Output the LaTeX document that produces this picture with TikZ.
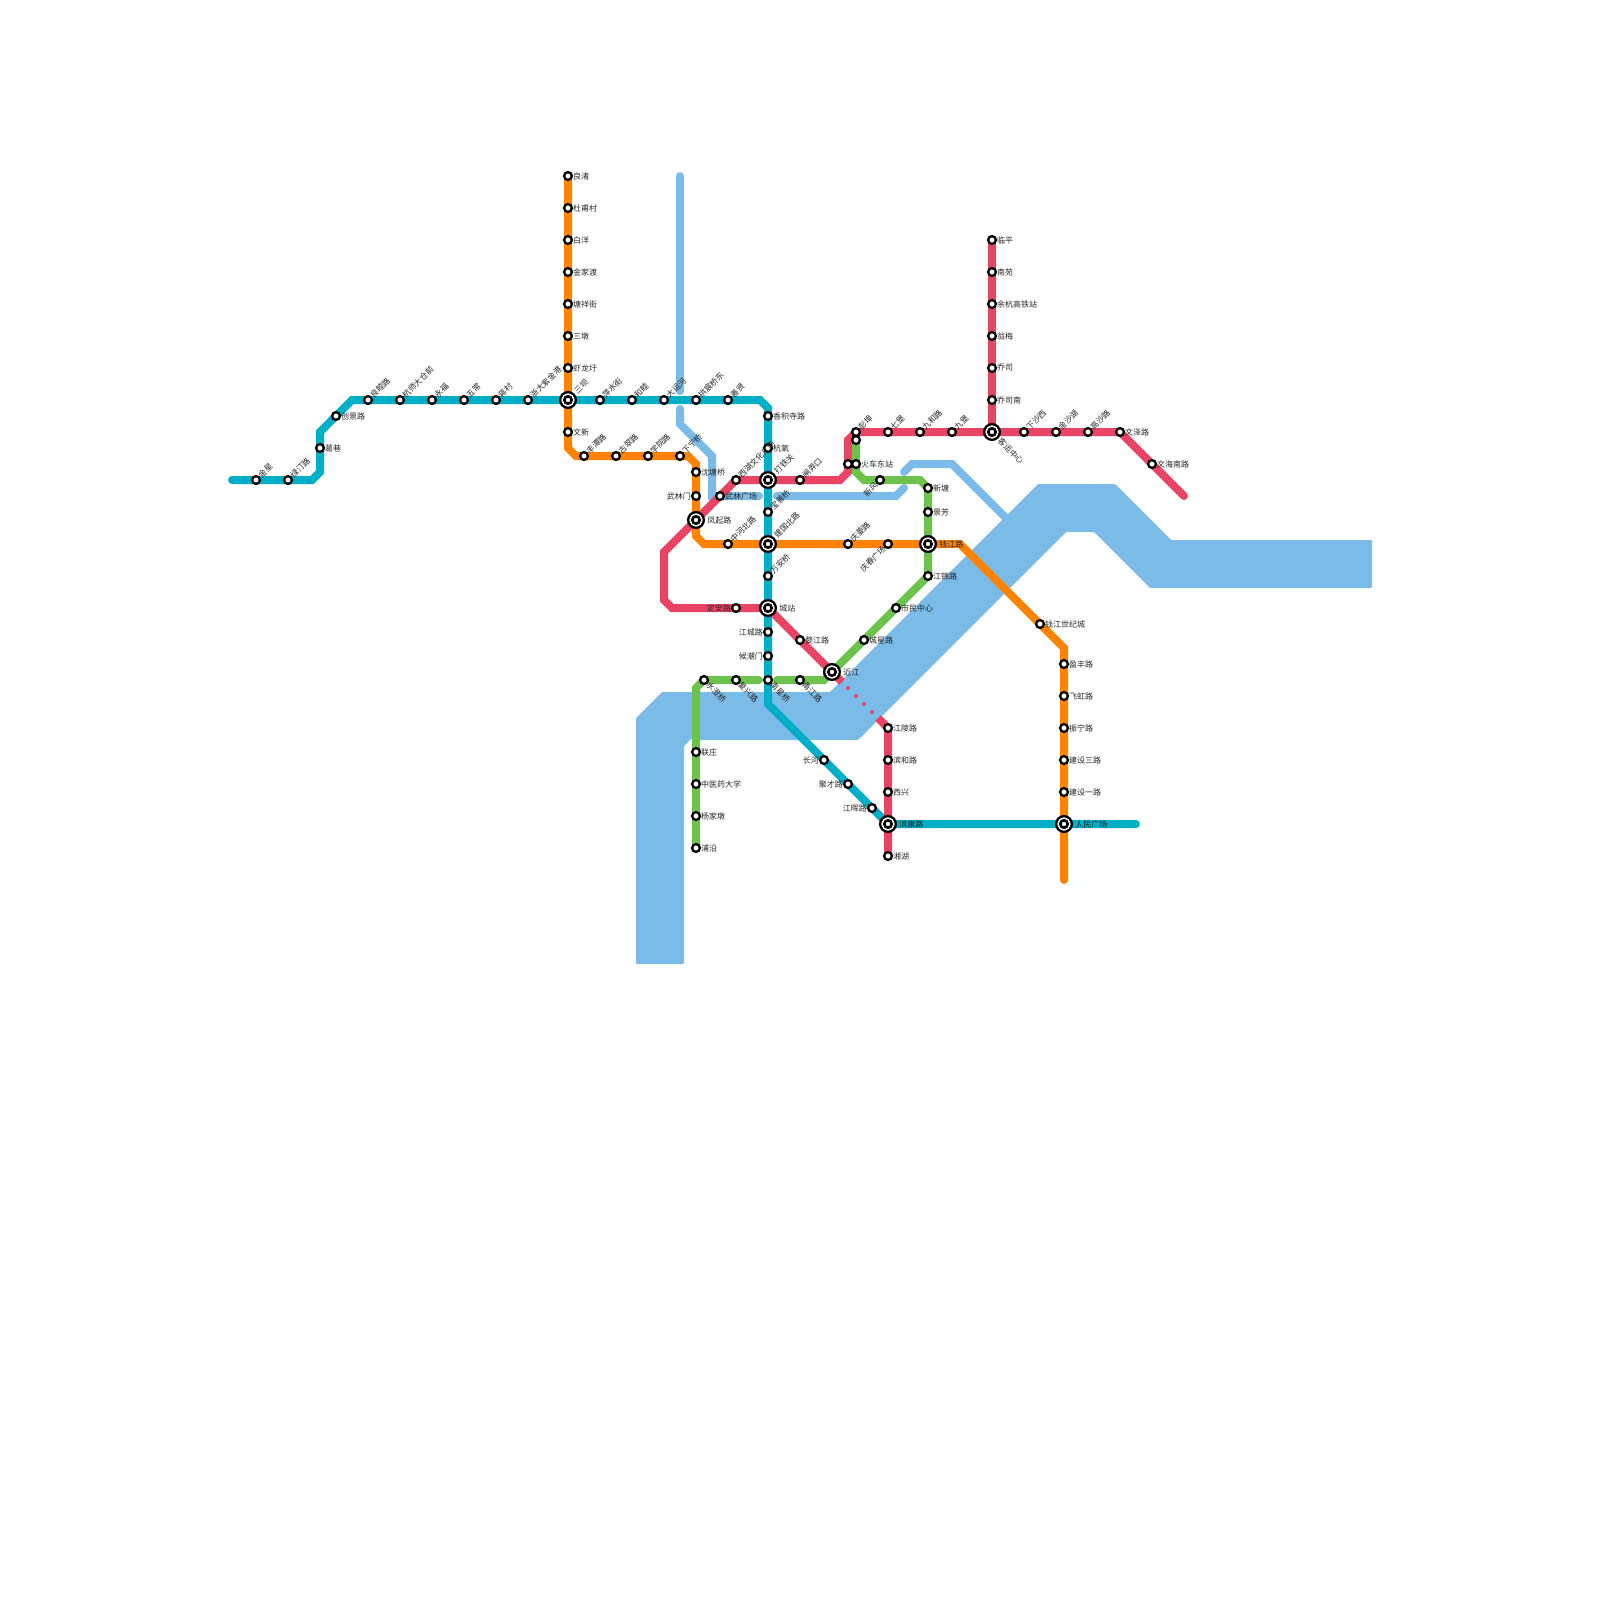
\documentclass[tikz,border=0pt]{standalone}
\usepackage{fontspec}
\setmainfont{Noto Sans CJK SC}
\usepackage{xcolor}
\usetikzlibrary{backgrounds}
\definecolor{cyanline}{HTML}{00AEC7}
\definecolor{orangeline}{HTML}{FF8200}
\definecolor{redline}{HTML}{EA4464}
\definecolor{greenline}{HTML}{6CC24A}
\definecolor{riverblue}{HTML}{7ABBE8}
\tikzset{
  stn/.style={circle, draw=black, fill=white, line width=2.3pt, inner sep=0pt, outer sep=0pt, minimum size=7.8pt},
  hub/.style={circle, draw=black, fill=white, line width=2.3pt, inner sep=0pt, outer sep=0pt, minimum size=15.7pt,
    path picture={\draw[line width=2.6pt] (path picture bounding box.center) circle (3.7pt);}},
  lbl/.style={font=\fontsize{8}{9}\selectfont, text=black!85, inner sep=1pt},
  lne/.style={lbl, rotate=45, anchor=west, inner sep=1.2pt},
  lse/.style={lbl, rotate=-45, anchor=west, inner sep=1.2pt},
  lsw/.style={lbl, rotate=45, anchor=east, inner sep=1.2pt},
  hlb/.style={lbl, inner sep=3.3pt},
  hne/.style={lne, inner sep=2.6pt},
  hse/.style={lse, inner sep=2.6pt},
  metro/.style={line width=8pt, line cap=round},
}
\begin{document}
\begin{tikzpicture}[x=1pt, y=-1pt]
    \useasboundingbox (0,0) rectangle (1600,1600);

    % West-east line stations
    \node[stn, label={[lne]45:金星}]       (jx)  at (256,480) {};
    \node[stn, label={[lne]45:绿汀路}]     (lt)  at (288,480) {};
    \node[stn, label={[lbl]right:葛巷}]    (gx)  at (320,448) {};
    \node[stn, label={[lbl]right:创景路}]  (cj)  at (336,416) {};
    \node[stn, label={[lne]45:良睦路}]     (lm)  at (368,400) {};
    \node[stn, label={[lne]45:杭师大仓前}] (hs)  at (400,400) {};
    \node[stn, label={[lne]45:永福}]       (yf)  at (432,400) {};
    \node[stn, label={[lne]45:五常}]       (wc)  at (464,400) {};
    \node[stn, label={[lne]45:蒋村}]       (jc)  at (496,400) {};
    \node[stn, label={[lne]45:浙大紫金港}] (zd)  at (528,400) {};
    \node[hub, label={[hne]45:三坝}]       (sb)  at (568,400) {};
    \node[stn, label={[lne]45:萍水街}]     (ps)  at (600,400) {};
    \node[stn, label={[lne]45:和睦}]       (hm)  at (632,400) {};
    \node[stn, label={[lne]45:大运河}]     (dy)  at (664,400) {};
    \node[stn, label={[lne]45:拱宸桥东}]   (gc)  at (696,400) {};
    \node[stn, label={[lne]45:善贤}]       (sx)  at (728,400) {};
    \node[stn, label={[lbl]right:香积寺路}] (xjs) at (768,416) {};
    \node[stn, label={[lbl]right:杭氧}]    (hy)  at (768,448) {};
    \node[hub, label={[hne]45:打铁关}]     (dt)  at (768,480) {};
    \node[stn, label={[lne]45:宝善桥}]     (bs)  at (768,512) {};
    \node[hub, label={[hne]45:建国北路}]   (jg)  at (768,544) {};
    \node[stn, label={[lne]45:万安桥}]     (wa)  at (768,576) {};
    \node[hub, label={[hlb]right:城站}]    (cz)  at (768,608) {};
    \node[stn, label={[lbl]left:江城路}]   (jcl) at (768,632) {};
    \node[stn, label={[lbl]left:候潮门}]   (hcm) at (768,656) {};
    \node[stn, label={[lse]-45:南星桥}]    (nx)  at (768,680) {};
    \node[stn, label={[lbl]left:长河}]     (chh) at (824,760) {};
    \node[stn, label={[lbl]left:聚才路}]   (jcai) at (848,784) {};
    \node[stn, label={[lbl]left:江晖路}]   (jh)  at (872,808) {};
    \node[hub, label={[hlb]right:滨康路}]  (bk)  at (888,824) {};
    \node[hub, label={[hlb]right:人民广场}] (rm) at (1064,824) {};

    % North-south orange line stations
    \node[stn, label={[lbl]right:良渚}]    (lzh) at (568,176) {};
    \node[stn, label={[lbl]right:杜甫村}]  (df)  at (568,208) {};
    \node[stn, label={[lbl]right:白洋}]    (by)  at (568,240) {};
    \node[stn, label={[lbl]right:金家渡}]  (jjd) at (568,272) {};
    \node[stn, label={[lbl]right:塘祥街}]  (tx)  at (568,304) {};
    \node[stn, label={[lbl]right:三墩}]    (sd)  at (568,336) {};
    \node[stn, label={[lbl]right:虾龙圩}]  (xl)  at (568,368) {};
    \node[stn, label={[lbl]right:文新}]    (wx)  at (568,432) {};
    \node[stn, label={[lne]45:丰潭路}]     (ft)  at (584,456) {};
    \node[stn, label={[lne]45:古翠路}]     (gcu) at (616,456) {};
    \node[stn, label={[lne]45:学院路}]     (xy)  at (648,456) {};
    \node[stn, label={[lne]45:下宁桥}]     (xn)  at (680,456) {};
    \node[stn, label={[lbl]right:沈塘桥}]  (st)  at (696,472) {};
    \node[stn, label={[lbl]left:武林门}]   (wlm) at (696,496) {};
    \node[hub, label={[hlb]right:凤起路}]  (fq)  at (696,520) {};
    \node[stn, label={[lne]45:中河北路}]   (zh)  at (728,544) {};
    \node[stn, label={[lne]45:庆菱路}]     (ql)  at (848,544) {};
    \node[stn, label={[lsw]-135:庆春广场}] (qc)  at (888,544) {};
    \node[hub, label={[hlb]right:钱江路}]  (qj)  at (928,544) {};
    \node[stn, label={[lbl]right:钱江世纪城}] (qs) at (1040,624) {};
    \node[stn, label={[lbl]right:盈丰路}]  (yfe) at (1064,664) {};
    \node[stn, label={[lbl]right:飞虹路}]  (fh)  at (1064,696) {};
    \node[stn, label={[lbl]right:振宁路}]  (zn)  at (1064,728) {};
    \node[stn, label={[lbl]right:建设三路}] (js3) at (1064,760) {};
    \node[stn, label={[lbl]right:建设一路}] (js1) at (1064,792) {};

    % Red line stations
    \node[stn, label={[lbl]right:湘湖}]    (xh)  at (888,856) {};
    \node[stn, label={[lbl]right:西兴}]    (xx)  at (888,792) {};
    \node[stn, label={[lbl]right:滨和路}]  (bh)  at (888,760) {};
    \node[stn, label={[lbl]right:江陵路}]  (jl)  at (888,728) {};
    \node[hub, label={[hlb]right:近江}]    (jj)  at (832,672) {};
    \node[stn, label={[lbl]right:婺江路}]  (wj)  at (800,640) {};
    \node[stn, label={[lbl]left:定安路}]   (da)  at (736,608) {};
    \node[stn, label={[lbl]right:武林广场}] (wg) at (720,496) {};
    \node[stn, label={[lne]45:西湖文化广场}] (xw) at (736,480) {};
    \node[stn, label={[lne]45:闸弄口}]     (zn2) at (800,480) {};
    \node[stn]                             (hd1) at (848,464) {};
    \node[stn, label={[lne]45:彭埠}]       (pb)  at (856,432) {};
    \node[stn, label={[lne]45:七堡}]       (qb)  at (888,432) {};
    \node[stn, label={[lne]45:九和路}]     (jhl) at (920,432) {};
    \node[stn, label={[lne]45:九堡}]       (jb)  at (952,432) {};
    \node[hub, label={[hse]-45:客运中心}]  (ky)  at (992,432) {};
    \node[stn, label={[lne]45:下沙西}]     (xs)  at (1024,432) {};
    \node[stn, label={[lne]45:金沙湖}]     (js)  at (1056,432) {};
    \node[stn, label={[lne]45:高沙路}]     (gs)  at (1088,432) {};
    \node[stn, label={[lbl]right:文泽路}]  (wz)  at (1120,432) {};
    \node[stn, label={[lbl]right:文海南路}] (wh) at (1152,464) {};
    \node[stn, label={[lbl]right:临平}]    (lp)  at (992,240) {};
    \node[stn, label={[lbl]right:南苑}]    (ny)  at (992,272) {};
    \node[stn, label={[lbl]right:余杭高铁站}] (yh) at (992,304) {};
    \node[stn, label={[lbl]right:翁梅}]    (wm)  at (992,336) {};
    \node[stn, label={[lbl]right:乔司}]    (qs1) at (992,368) {};
    \node[stn, label={[lbl]right:乔司南}]  (qn)  at (992,400) {};

    % Green line stations
    \node[stn]                             (pb2) at (856,440) {};
    \node[stn, label={[lbl]right:火车东站}] (hd) at (856,464) {};
    \node[stn, label={[lsw]-135:新风}]     (xf)  at (880,480) {};
    \node[stn, label={[lbl]right:新塘}]    (xt)  at (928,488) {};
    \node[stn, label={[lbl]right:景芳}]    (jf)  at (928,512) {};
    \node[stn, label={[lbl]right:江锦路}]  (jjl) at (928,576) {};
    \node[stn, label={[lbl]right:市民中心}] (sm) at (896,608) {};
    \node[stn, label={[lbl]right:城星路}]  (cx)  at (864,640) {};
    \node[stn, label={[lse]-45:甬江路}]    (yj)  at (800,680) {};
    \node[stn, label={[lse]-45:复兴路}]    (fx)  at (736,680) {};
    \node[stn, label={[lse]-45:水澄桥}]    (sc)  at (704,680) {};
    \node[stn, label={[lbl]right:联庄}]    (lz)  at (696,752) {};
    \node[stn, label={[lbl]right:中医药大学}] (zy) at (696,784) {};
    \node[stn, label={[lbl]right:杨家墩}]  (yjd) at (696,816) {};
    \node[stn, label={[lbl]right:浦沿}]    (pyn) at (696,848) {};

    % Bends and free ends
    \coordinate (c0) at (232,480);
    \coordinate (c1) at (312,480);
    \coordinate (c2) at (320,472);
    \coordinate (c3) at (320,432);
    \coordinate (c4) at (352,400);
    \coordinate (c5) at (760,400);
    \coordinate (c6) at (768,408);
    \coordinate (c7) at (768,704);
    \coordinate (c8) at (1136,824);
    \coordinate (o1) at (568,448);
    \coordinate (o2) at (576,456);
    \coordinate (o3) at (688,456);
    \coordinate (o4) at (696,464);
    \coordinate (o5) at (696,536);
    \coordinate (o6) at (704,544);
    \coordinate (o7) at (960,544);
    \coordinate (o8) at (1064,648);
    \coordinate (o9) at (1064,880);
    \coordinate (r1) at (1184,496);
    \coordinate (r2) at (848,440);
    \coordinate (r3) at (848,472);
    \coordinate (r4) at (840,480);
    \coordinate (r5) at (664,552);
    \coordinate (r6) at (664,600);
    \coordinate (r7) at (672,608);
    \coordinate (r8) at (842,682);
    \coordinate (r9) at (878,718);
    \coordinate (g1) at (856,472);
    \coordinate (g2) at (864,480);
    \coordinate (g3) at (920,480);
    \coordinate (g4) at (824,680);
    \coordinate (g5) at (777,680);
    \coordinate (g6) at (759,680);
    \coordinate (g7) at (696,688);
    \coordinate (k1) at (680,176);
    \coordinate (k2) at (680,391);
    \coordinate (k3) at (680,409);
    \coordinate (k4) at (680,424);
    \coordinate (k5) at (712,456);
    \coordinate (k6) at (712,496);
    \coordinate (k7) at (759,496);
    \coordinate (k8) at (777,496);
    \coordinate (k9) at (896,496);
    \coordinate (k10) at (904,488);
    \coordinate (k11) at (904,472);
    \coordinate (k12) at (912,464);
    \coordinate (k13) at (952,464);
    \coordinate (k14) at (1016,528);

    \begin{scope}[on background layer]
        % River
        \fill[riverblue, rounded corners=1pt] (636,718) -- (662,692) -- (830,692) -- (1038,484) -- (1115,484)
            -- (1171,540) -- (1372,540) -- (1372,588) -- (1150,588) -- (1094,532) -- (1066,532) -- (858,740)
            -- (700,740) -- (692,738) -- (684,746) -- (684,964) -- (636,964) -- cycle;

        % Canal
        \draw[metro, riverblue] (k1) -- (k2);
        \draw[metro, riverblue] (k3) -- (k4) -- (k5) -- (k6) -- (k7);
        \draw[metro, riverblue] (k8) -- (k9) -- (k10);
        \draw[metro, riverblue] (k11) -- (k12) -- (k13) -- (k14);

        % Orange line
        \draw[metro, orangeline] (lzh.center) -- (df.center) -- (by.center) -- (jjd.center) -- (tx.center)
            -- (sd.center) -- (xl.center) -- (sb.center) -- (wx.center) -- (o1) -- (o2) -- (ft.center)
            -- (gcu.center) -- (xy.center) -- (xn.center) -- (o3) -- (o4) -- (st.center) -- (wlm.center)
            -- (fq.center) -- (o5) -- (o6) -- (zh.center) -- (jg.center) -- (ql.center) -- (qc.center)
            -- (qj.center) -- (o7) -- (qs.center) -- (o8) -- (yfe.center) -- (fh.center) -- (zn.center)
            -- (js3.center) -- (js1.center) -- (rm.center) -- (o9);

        % Cyan line
        \draw[metro, cyanline] (c0) -- (jx.center) -- (lt.center) -- (c1) -- (c2) -- (gx.center) -- (c3)
            -- (cj.center) -- (c4) -- (lm.center) -- (hs.center) -- (yf.center) -- (wc.center) -- (jc.center)
            -- (zd.center) -- (sb.center) -- (ps.center) -- (hm.center) -- (dy.center) -- (gc.center)
            -- (sx.center) -- (c5) -- (c6) -- (xjs.center) -- (hy.center) -- (dt.center) -- (bs.center)
            -- (jg.center) -- (wa.center) -- (cz.center) -- (jcl.center) -- (hcm.center) -- (nx.center)
            -- (c7) -- (chh.center) -- (jcai.center) -- (jh.center) -- (bk.center) -- (rm.center) -- (c8);

        % Red line
        \draw[metro, redline] (r1) -- (wh.center) -- (wz.center) -- (gs.center) -- (js.center) -- (xs.center)
            -- (ky.center) -- (jb.center) -- (jhl.center) -- (qb.center) -- (pb.center) -- (r2) -- (hd1.center)
            -- (r3) -- (r4) -- (zn2.center) -- (dt.center) -- (xw.center) -- (wg.center) -- (fq.center)
            -- (r5) -- (r6) -- (r7) -- (da.center) -- (cz.center) -- (wj.center) -- (jj.center);
        \draw[line width=8pt, redline] (jj.center) -- (r8);
        \draw[line width=8pt, redline] (r9) -- (jl.center) -- (bh.center) -- (xx.center) -- (bk.center) -- (xh.center);
        \draw[metro, redline] (lp.center) -- (ny.center) -- (yh.center) -- (wm.center) -- (qs1.center)
            -- (qn.center) -- (ky.center);
        % Under the river
        \foreach \x/\y in {848/688, 856/696, 864/704, 872/712}
            \fill[redline] (\x,\y) circle (2pt);

        % Green line
        \draw[metro, greenline] (pb2.center) -- (hd.center) -- (g1) -- (g2) -- (xf.center) -- (g3) -- (xt.center)
            -- (jf.center) -- (qj.center) -- (jjl.center) -- (sm.center) -- (cx.center) -- (jj.center) -- (g4)
            -- (yj.center) -- (g5);
        \draw[metro, greenline] (g6) -- (fx.center) -- (sc.center) -- (g7) -- (lz.center) -- (zy.center)
            -- (yjd.center) -- (pyn.center);
    \end{scope}
\end{tikzpicture}
\end{document}
